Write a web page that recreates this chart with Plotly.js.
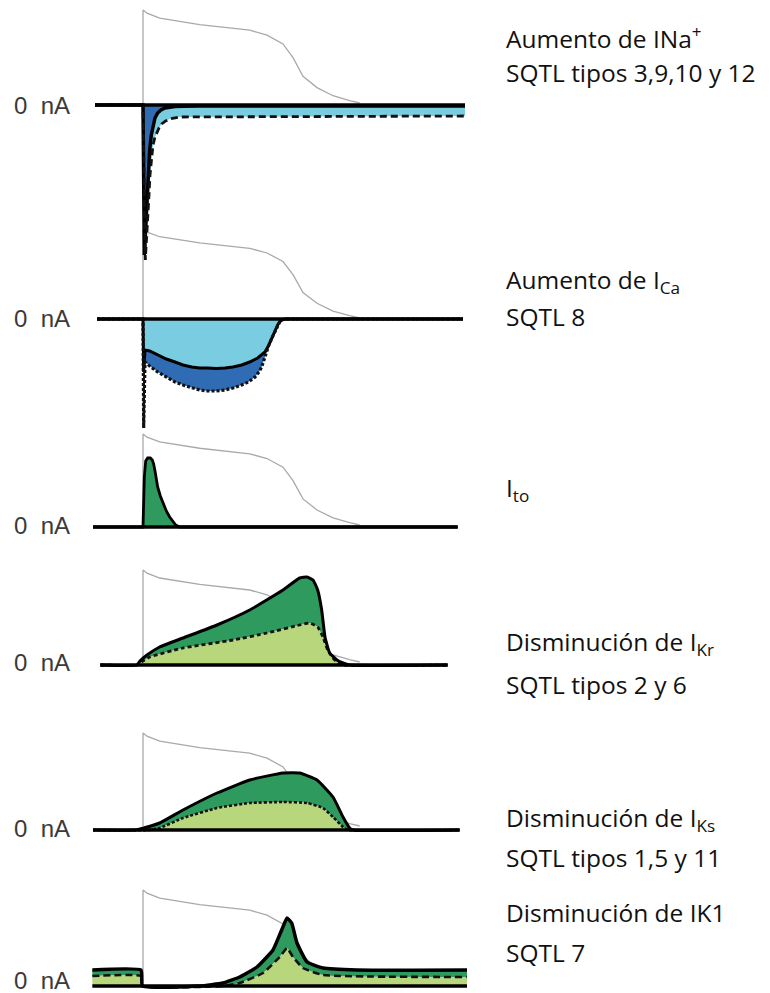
<!DOCTYPE html>
<html>
<head>
<meta charset="utf-8">
<script src="https://cdn.plot.ly/plotly-3.0.1.min.js"></script>
<style>html,body{margin:0;padding:0;background:#fff;}#chart{width:770px;height:993px;}</style>
</head>
<body>
<div id="chart"></div>
<script>
// ---------- DATA (time in ms, AP in mV, currents in schematic nA units) ----------
const apT = [0, 0, 6, 25, 85, 160, 186, 210, 225, 240, 261, 285, 310, 325];
const apV = [-85, 30, 26, 20, 12, 5, -1, -12, -29, -52, -66, -76, -82, -85];

// Panel 1: INa
const naCtrlT = [-72, 0, 2, 4, 6, 8, 10, 12.5, 15, 18, 22, 27, 33, 40, 48, 60, 85, 483];
const naCtrlI = [0, 0, -15, -12, -9.5, -7, -4.5, -3.0, -2.0, -1.3, -0.8, -0.5, -0.3, -0.2, -0.15, -0.12, -0.1, -0.1];
const naMutT  = [-72, 0, 3.5, 5.5, 7.5, 9, 10.5, 13, 15, 18, 21, 24, 28, 34, 40, 48, 55, 483];
const naMutI  = [0, 0, -15.5, -13.5, -11.5, -9.0, -7, -5.2, -4, -3.2, -2.7, -2.3, -1.9, -1.6, -1.4, -1.3, -1.2, -1.1];

// Panel 2: ICa
const caCtrlT = [-69, 0, 1, 3, 10, 22, 35, 48, 60, 73, 85, 97, 110, 123, 135, 148, 160, 172, 178, 183, 188, 193, 198, 202, 205, 208, 213, 480];
const caCtrlI = [0, 0, -5.3, -3.1, -3.2, -3.6, -4.0, -4.3, -4.6, -4.8, -4.9, -4.9, -4.95, -4.9, -4.8, -4.6, -4.3, -3.9, -3.6, -3.3, -2.7, -1.9, -1.2, -0.6, -0.3, -0.1, 0, 0];
const caMutT  = [-69, 0, 1, 3, 10, 22, 35, 48, 60, 73, 85, 97, 110, 123, 135, 148, 158, 168, 174, 178, 181, 183, 188, 193, 198, 202, 205, 208, 213, 480];
const caMutI  = [0, 0, -10.9, -4.3, -4.7, -5.3, -5.8, -6.3, -6.6, -6.9, -7.1, -7.2, -7.2, -7.1, -6.9, -6.6, -6.3, -5.8, -5.3, -4.8, -4.2, -3.6, -2.75, -1.95, -1.25, -0.65, -0.3, -0.1, 0, 0];

// Panel 3: Ito
const toT = [-75, 0, 2, 4, 7, 11, 14, 16, 18, 20, 22, 26, 30, 35, 40, 45, 49, 55, 472];
const toI = [0, 0, 5.0, 6.6, 6.9, 6.9, 6.7, 6.3, 5.6, 4.8, 4.0, 3.1, 2.4, 1.6, 1.0, 0.5, 0.2, 0, 0];

// Panel 4: IKr
const krCtrlT = [-64, -9, -4.5, 6, 25, 60, 111, 160, 210, 235, 246, 255, 262, 268, 273, 280, 291, 300, 310, 457];
const krCtrlI = [0, 0, 0.4, 1.0, 1.8, 2.7, 4.0, 5.5, 7.5, 8.7, 8.8, 8.5, 7.5, 5.5, 2.8, 1.2, 0.5, 0.2, 0, 0];
const krMutT  = [-64, -9, 0, 10, 60, 135, 186, 235, 250, 262, 270, 277, 285, 291, 300, 457];
const krMutI  = [0, 0, 0.4, 0.8, 1.7, 2.5, 3.2, 4.0, 4.2, 3.8, 2.8, 1.5, 0.7, 0.3, 0, 0];

// Panel 5: IKs
const ksCtrlT = [-75, -12, -4.5, 25, 60, 111, 160, 210, 235, 261, 285, 300, 310, 315, 475];
const ksCtrlI = [0, 0, 0.1, 0.7, 2.0, 3.7, 5.0, 5.7, 5.7, 5.0, 3.3, 1.3, 0.2, 0, 0];
const ksMutT  = [-75, 10, 25, 60, 111, 160, 210, 246, 270, 285, 300, 307, 475];
const ksMutI  = [0, 0, 0.2, 1.2, 2.2, 2.7, 2.8, 2.7, 2.2, 1.3, 0.3, 0, 0];

// Panel 6: IK1
const k1CtrlT = [-76, -3, -0.7, 85, 120, 145, 171, 195, 208, 216, 223, 231, 246, 270, 321, 486];
const k1CtrlI = [1.6, 1.6, 0, 0, 0.3, 0.9, 1.9, 3.6, 5.6, 6.8, 6.3, 4.3, 2.4, 1.8, 1.6, 1.6];
const k1MutT  = [-76, -3, -0.7, 120, 145, 180, 205, 216, 225, 240, 270, 486];
const k1MutI  = [1.0, 1.0, 0, 0, 0.3, 1.3, 2.9, 3.8, 2.9, 1.8, 1.1, 0.9];

const zeroLabel = "0\u00a0\u00a0nA";
const rightLabels = [
  "Aumento de INa<sup>+</sup>", "SQTL tipos 3,9,10 y 12",
  "Aumento de I<sub>Ca</sub>", "SQTL 8",
  "I<sub>to</sub>",
  "Disminución de I<sub>Kr</sub>", "SQTL tipos 2 y 6",
  "Disminución de I<sub>Ks</sub>", "SQTL tipos 1,5 y 11",
  "Disminución de IK1", "SQTL 7"
];

// ---------- LAYOUT GEOMETRY ----------
const W = 770, H = 993;
const C = {dark:'#2f6cb3', cyan:'#7acde0', green:'#2f9a5d', lime:'#b8d67b', ap:'#a9a9a9'};
const geo = [
  {base:105, apTop:10,  apRest:103},
  {base:319, apTop:229, apRest:318},
  {base:527, apTop:434, apRest:525},
  {base:665, apTop:570, apRest:662},
  {base:830, apTop:733, apRest:826},
  {base:986, apTop:890, apRest:983}
];
const S = 10;
const rightY = [38, 72, 281, 317, 489, 643, 684, 819, 857, 912, 952];
const zeroY  = [105, 318, 525, 662, 828, 980];

const panels = [
  {ctrl:[naCtrlT, naCtrlI], mut:[naMutT, naMutI], ctrlFill:C.dark, mutFill:C.cyan, order:'ctrlFirst', dash:'7px,4px', shape:'linear', cw:3.5, mw:2.8},
  {ctrl:[caCtrlT, caCtrlI], mut:[caMutT, caMutI], ctrlFill:C.cyan, mutFill:C.dark, order:'ctrlFirst', dash:'3px,2px', shape:'linear', cw:3, mw:3.2},
  {ctrl:[toT, toI], mut:null, ctrlFill:C.green, shape:'linear', cw:2.8},
  {ctrl:[krCtrlT, krCtrlI], mut:[krMutT, krMutI], ctrlFill:C.green, mutFill:C.lime, order:'mutFirst', dash:'4px,3px', shape:'spline', cw:3, mw:2.8},
  {ctrl:[ksCtrlT, ksCtrlI], mut:[ksMutT, ksMutI], ctrlFill:C.green, mutFill:C.lime, order:'mutFirst', dash:'3px,2px', shape:'spline', cw:3, mw:2.6},
  {ctrl:[k1CtrlT, k1CtrlI], mut:[k1MutT, k1MutI], ctrlFill:C.green, mutFill:C.lime, order:'mutFirst', dash:'7px,4px', shape:'spline', cw:3.5, mw:2.6}
];

const traces = [];
const layout = {
  width: W, height: H, margin:{l:0, r:0, t:0, b:0},
  paper_bgcolor:'#fff', plot_bgcolor:'#fff', showlegend:false,
  xaxis:{range:[(0-143)*1.5, (W-143)*1.5], visible:false, fixedrange:true},
  annotations:[]
};

function axName(n){ return n === 1 ? 'y' : 'y' + n; }
function axKey(n){ return n === 1 ? 'yaxis' : 'yaxis' + n; }

geo.forEach((g, k) => {
  const apAx = k + 1, curAx = k + 7;
  const mvPerPx = 115 / (g.apRest - g.apTop);
  const ax = {range:[-85 - (H - g.apRest) * mvPerPx, 30 + g.apTop * mvPerPx], domain:[0,1], visible:false, fixedrange:true};
  if (apAx !== 1) ax.overlaying = 'y';
  layout[axKey(apAx)] = ax;
  layout[axKey(curAx)] = {range:[-(H - g.base) / S, g.base / S], domain:[0,1], visible:false, fixedrange:true, overlaying:'y'};
  traces.push({x:apT, y:apV, yaxis:axName(apAx), mode:'lines', line:{color:C.ap, width:1.3}, hoverinfo:'skip'});
});

panels.forEach((p, k) => {
  const ya = axName(k + 7);
  const ct = p.ctrl[0];
  const t0 = ct[0], t1 = ct[ct.length - 1];
  const ctrlTrace = (fill) => ({x:p.ctrl[0], y:p.ctrl[1], yaxis:ya, mode:'lines', fill:fill,
      fillcolor:p.ctrlFill, line:{color:'#000', width:p.cw, shape:p.shape, smoothing:0.4}, hoverinfo:'skip'});
  const mutTrace = (fill) => ({x:p.mut[0], y:p.mut[1], yaxis:ya, mode:'lines', fill:fill,
      fillcolor:p.mutFill, line:{color:'#111', width:p.mw, dash:p.dash, shape:p.shape, smoothing:0.4}, hoverinfo:'skip'});
  if (!p.mut) {
    traces.push(ctrlTrace('tozeroy'));
  } else if (p.order === 'ctrlFirst') {
    traces.push(ctrlTrace('tozeroy'));
    traces.push(mutTrace('tonexty'));
  } else {
    traces.push(mutTrace('tozeroy'));
    traces.push(ctrlTrace('tonexty'));
  }
  traces.push({x:[t0, t1], y:[0, 0], yaxis:ya, mode:'lines', line:{color:'#000', width:3.5}, hoverinfo:'skip'});
});

zeroY.forEach((py) => {
  layout.annotations.push({xref:'paper', yref:'paper', x:12/W, y:1 - py/H, xanchor:'left', yanchor:'middle',
    text:zeroLabel, showarrow:false, font:{family:'Liberation Sans, Arial, sans-serif', size:24, color:'#3a3a3a'}});
});
rightLabels.forEach((txt, i) => {
  layout.annotations.push({xref:'paper', yref:'paper', x:504/W, y:1 - rightY[i]/H, xanchor:'left', yanchor:'middle',
    text:txt, showarrow:false, font:{family:'Open Sans, sans-serif', size:24.5, color:'#111'}});
});

Plotly.newPlot('chart', traces, layout, {staticPlot:true, displayModeBar:false});
</script>
</body>
</html>
